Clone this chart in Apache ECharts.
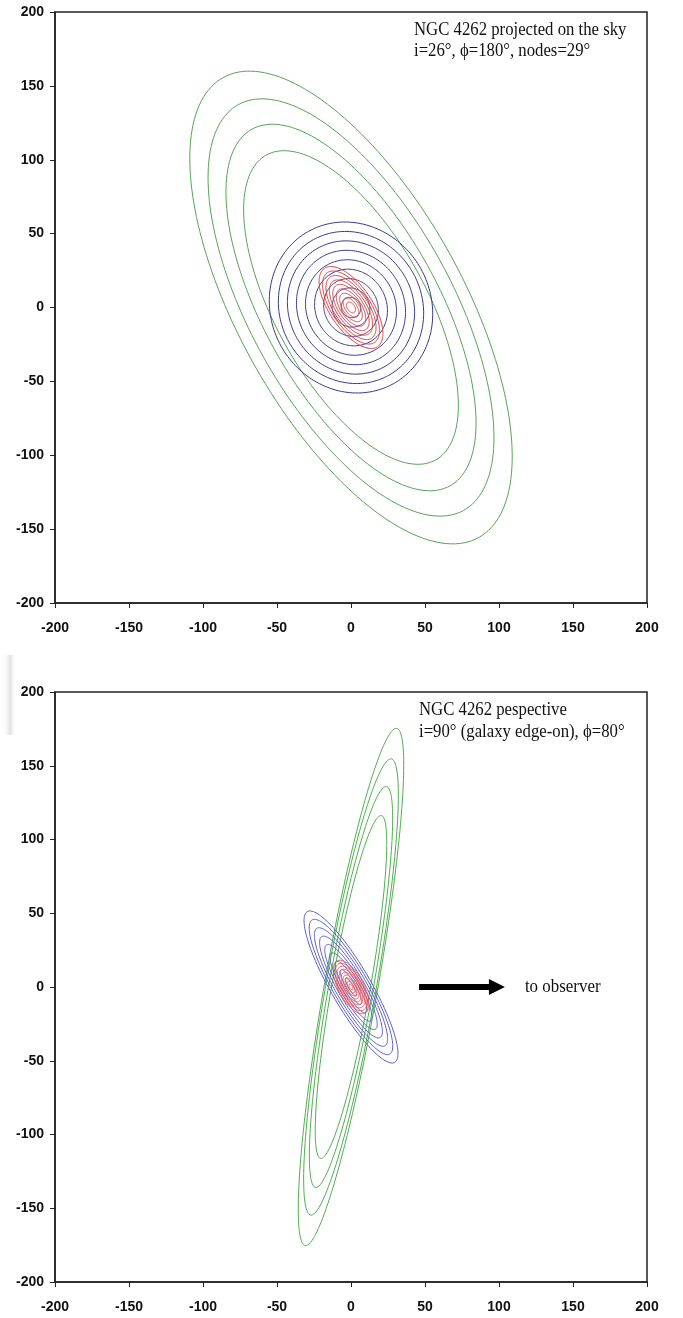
<!DOCTYPE html>
<html>
<head>
<meta charset="utf-8">
<script src="https://cdn.jsdelivr.net/npm/echarts@6/dist/echarts.min.js"></script>
<style>
  html, body { margin: 0; padding: 0; background: #fff; }
  #chart { width: 683px; height: 1318px; }
</style>
</head>
<body>
<div id="chart"></div>
<script>
// ticks shared by both panels
var tickMin = -200, tickMax = 200, tickStep = 50;

// Panel 1: projected on the sky. Each ring = semi-major, semi-minor (data units), angle of major axis (deg)
var skyGreenA = [178, 157, 138, 118];
var skyGreenB = [76, 68, 59, 51];
var skyGreenAngle = 119;
var skyBlueA = [59, 52.5, 46, 39.5, 33, 26.5, 20, 13.5, 7];
var skyBlueB = [54, 48, 42, 36, 30, 24, 18, 12.5, 6.5];
var skyBlueAngle = 119;
var skyRedA = [32, 28.5, 25, 21.5, 18, 14.5, 11, 7.5, 4];
var skyRedB = [14.5, 13, 11.5, 10, 8.5, 7, 5.5, 4, 2.5];
var skyRedAngle = 124;

// Panel 2: perspective, edge-on
var edgeGreenA = [178, 157, 138, 118];
var edgeGreenB = [18, 17, 15, 13];
var edgeGreenAngle = 80;
var edgeBlueA = [59, 52.5, 46, 39.5, 33, 26.5, 20, 13.5, 7];
var edgeBlueB = [13.5, 12, 10.5, 9, 7.5, 6, 4.6, 3.1, 1.6];
var edgeBlueAngle = 120;
var edgeRedA = [20, 17.8, 15.6, 13.3, 11.1, 8.9, 6.7, 4.4, 2.2];
var edgeRedB = [8.5, 7.5, 6.6, 5.6, 4.7, 3.8, 2.8, 1.9, 0.9];
var edgeRedAngle = 118;

// arrow "to observer" (data units)
var arrowFrom = [46, 0];
var arrowTo = [104, 0];
var arrowLabel = "to observer";

var skyTitle = "NGC 4262 projected on the sky\ni=26\u00b0, \u03d5=180\u00b0, nodes=29\u00b0";
var edgeTitle = "NGC 4262 pespective\ni=90\u00b0 (galaxy edge-on), \u03d5=80\u00b0";

function rings(aList, bList, angle) {
  return aList.map(function (a, i) { return [a, bList[i], angle]; });
}

function ellipseRenderer(color) {
  return function (params, api) {
    var a = api.value(0), b = api.value(1), ang = api.value(2) * Math.PI / 180;
    var pts = [];
    var n = 180;
    for (var k = 0; k <= n; k++) {
      var t = 2 * Math.PI * k / n;
      var u = a * Math.cos(t), v = b * Math.sin(t);
      pts.push(api.coord([u * Math.cos(ang) - v * Math.sin(ang), u * Math.sin(ang) + v * Math.cos(ang)]));
    }
    return {
      type: "polyline",
      shape: { points: pts },
      style: { stroke: color, lineWidth: 1, fill: null }
    };
  };
}

function ringSeries(data, color, gi) {
  return {
    type: "custom", xAxisIndex: gi, yAxisIndex: gi,
    renderItem: ellipseRenderer(color),
    data: data, silent: true, animation: false,
    encode: { x: 0, y: 1 }
  };
}

function arrowRender(params, api) {
  var p0 = api.coord(arrowFrom), p1 = api.coord(arrowTo);
  var y = p0[1], head = 16, half = 3;
  var hx = p1[0] - head;
  return {
    type: "group",
    children: [{
      type: "polygon",
      shape: { points: [[p0[0], y - half], [hx, y - half], [hx, y - 8], [p1[0], y], [hx, y + 8], [hx, y + half], [p0[0], y + half]] },
      style: { fill: "#000" }
    }, {
      type: "text",
      x: p1[0] + 20, y: y, scaleX: 0.94,
      style: { text: arrowLabel, font: '18px "Liberation Serif"', fill: "#111", verticalAlign: "middle" }
    }]
  };
}

var axisFont = { color: "#111", fontFamily: "Liberation Sans, Arial", fontWeight: "bold", fontSize: 14 };
function xAxis(gi) {
  return {
    type: "value", gridIndex: gi, min: tickMin, max: tickMax, interval: tickStep,
    axisLine: { onZero: false, lineStyle: { color: "#222", width: 1.5 } },
    axisTick: { inside: false, length: 5, lineStyle: { color: "#222" } },
    splitLine: { show: false },
    axisLabel: Object.assign({ margin: 18 }, axisFont)
  };
}
function yAxis(gi) {
  return {
    type: "value", gridIndex: gi, min: tickMin, max: tickMax, interval: tickStep,
    axisLine: { onZero: false, lineStyle: { color: "#222", width: 1.5 } },
    axisTick: { inside: false, length: 5, lineStyle: { color: "#222" } },
    splitLine: { show: false },
    axisLabel: Object.assign({ margin: 11 }, axisFont)
  };
}

var chart = echarts.init(document.getElementById("chart"), null, { renderer: "canvas" });
chart.setOption({
  animation: false,
  backgroundColor: "#fff",
  grid: [
    { left: 55, top: 12, width: 592, height: 591, show: true, borderColor: "#222", borderWidth: 1.5, backgroundColor: "#fff" },
    { left: 55, top: 692, width: 592, height: 590, show: true, borderColor: "#222", borderWidth: 1.5, backgroundColor: "#fff" }
  ],
  xAxis: [xAxis(0), xAxis(1)],
  yAxis: [yAxis(0), yAxis(1)],
  graphic: [
    // faint scan shadow at the left edge of the lower panel
    { type: "rect", x: 2, y: 655, shape: { width: 14, height: 80 },
      style: { fill: new echarts.graphic.LinearGradient(0, 0, 1, 0, [
        { offset: 0, color: "rgba(255,255,255,0)" }, { offset: 0.6, color: "rgba(200,200,200,0.55)" }, { offset: 1, color: "rgba(255,255,255,0)" }]) } },
    { type: "text", x: 414, y: 20, scaleX: 0.93, style: { text: skyTitle, font: '18px "Liberation Serif"', lineHeight: 21, fill: "#111" } },
    { type: "text", x: 419, y: 699, scaleX: 0.93, style: { text: edgeTitle, font: '18px "Liberation Serif"', lineHeight: 22, fill: "#111" } }
  ],
  series: [
    ringSeries(rings(skyGreenA, skyGreenB, skyGreenAngle), "#55a455", 0),
    ringSeries(rings(skyBlueA, skyBlueB, skyBlueAngle), "#38388c", 0),
    ringSeries(rings(skyRedA, skyRedB, skyRedAngle), "#d83c3c", 0),
    ringSeries(rings(edgeGreenA, edgeGreenB, edgeGreenAngle), "#4fae4f", 1),
    ringSeries(rings(edgeBlueA, edgeBlueB, edgeBlueAngle), "#5a5ac4", 1),
    ringSeries(rings(edgeRedA, edgeRedB, edgeRedAngle), "#ee5050", 1),
    {
      type: "custom", xAxisIndex: 1, yAxisIndex: 1, silent: true, animation: false,
      renderItem: arrowRender, data: [[arrowFrom[0], arrowFrom[1]]]
    }
  ]
});
</script>
</body>
</html>
